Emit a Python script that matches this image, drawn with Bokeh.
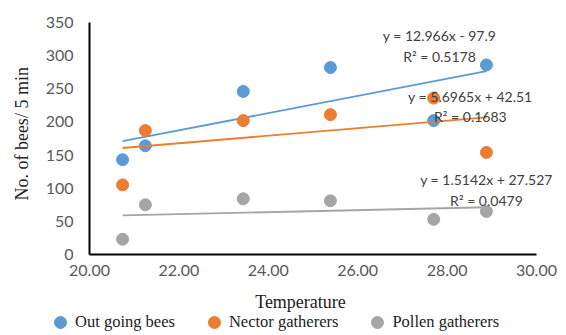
import math
from bokeh.plotting import figure
from bokeh.models import Label, Legend, LegendItem, FixedTicker, NumeralTickFormatter, Range1d
from bokeh.embed import file_html
from bokeh.resources import INLINE

temperature = [20.74, 21.25, 23.44, 25.39, 27.70, 28.88]
out_going = [143, 164, 246, 282, 202, 286]
nector = [105, 187, 202, 211, 236, 154]
pollen = [23, 75, 84, 81, 53, 65]

series_names = ["Out going bees", "Nector gatherers", "Pollen gatherers"]
slopes = [12.966, 5.6965, 1.5142]
intercepts = [-97.9, 42.51, 27.527]
equations = ["y = 12.966x - 97.9", "y = 5.6965x + 42.51", "y = 1.5142x + 27.527"]
r2_labels = ["R² = 0.5178", "R² = 0.1683", "R² = 0.0479"]

x_ticks = [20, 22, 24, 26, 28, 30]
y_ticks = [0, 50, 100, 150, 200, 250, 300, 350]

colors = ["#5B9BD5", "#ED7D31", "#A5A5A5"]

# frame covers the whole figure; axes are placed with fixed_location
p = figure(width=566, height=335, output_backend="svg", toolbar_location=None,
           x_range=Range1d(18.009, 30.671), y_range=Range1d(-122.2, 383.19),
           min_border=0)
p.outline_line_color = None
p.grid.visible = False

sans = "Lato"
serif = "Liberation Serif"

for ax in (p.xaxis, p.yaxis):
    ax.axis_line_color = "black"
    ax.axis_line_width = 2
    ax.major_tick_line_color = None
    ax.minor_tick_line_color = None
    ax.major_tick_out = 0
    ax.major_tick_in = 0
    ax.major_label_text_font = sans
    ax.major_label_text_font_size = "16px"
    ax.major_label_text_color = "#595959"

p.xaxis.fixed_location = 0
p.yaxis.fixed_location = 20
p.xaxis.bounds = (20, 30)
p.yaxis.bounds = (0, 350)
p.xaxis.ticker = FixedTicker(ticks=x_ticks)
p.xaxis.formatter = NumeralTickFormatter(format="0.00")
p.yaxis.ticker = FixedTicker(ticks=y_ticks)
p.xaxis.major_label_standoff = 11
p.yaxis.major_label_standoff = 16

p.add_layout(Label(x=24.72, y=-72.4, text="Temperature", text_align="center", text_baseline="middle",
                   text_font=serif, text_font_size="18px", text_color="#222222"))
p.add_layout(Label(x=18.50, y=182, text="No. of bees/ 5 min", text_align="center",
                   text_baseline="middle", angle=math.pi / 2,
                   text_font=serif, text_font_size="18px", text_color="#222222"))

items = []
xmin, xmax = min(temperature), max(temperature)
for name, vals, c, m, b in zip(series_names, [out_going, nector, pollen], colors, slopes, intercepts):
    p.line([xmin, xmax], [m * xmin + b, m * xmax + b], line_color=c, line_width=1.8)
    r = p.scatter(temperature, vals, size=12, fill_color=c, line_color=c, marker="circle")
    items.append(LegendItem(label=name, renderers=[r]))

eq_pos = [(27.83, 330.4, 298.7), (28.52, 238.4, 208.2), (28.88, 113.1, 81.5)]
for (x, y1, y2), eq, r2 in zip(eq_pos, equations, r2_labels):
    for txt, yy in ((eq, y1), (r2, y2)):
        p.add_layout(Label(x=x, y=yy, text=txt, text_align="center", text_baseline="middle",
                           text_font=sans, text_font_size="14px", text_color="#404040"))

legend = Legend(items=items, orientation="horizontal", location=(45, -2),
                label_text_font=serif, label_text_font_size="16.5px", label_text_color="#222222",
                glyph_width=30, glyph_height=30, label_standoff=0, spacing=24,
                padding=0, margin=0, border_line_color=None, background_fill_alpha=0)
p.add_layout(legend)

open("out.html", "w").write(file_html(p, INLINE))
